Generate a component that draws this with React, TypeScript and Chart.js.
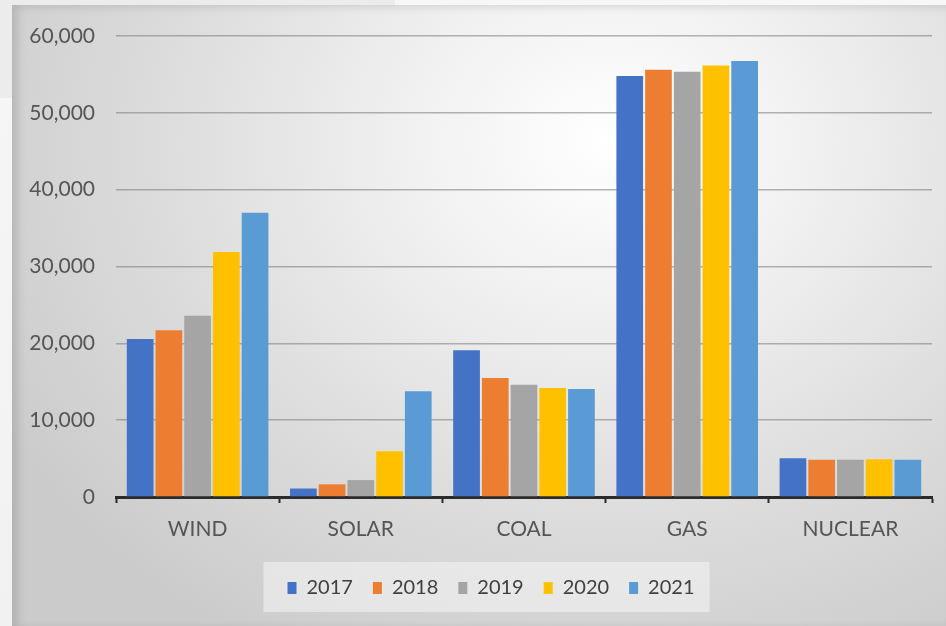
import React, { useEffect, useRef } from "react";
import { Chart, registerables } from "chart.js";

Chart.register(...registerables);

// Electricity generation by source, 2017–2021
const categories = ["WIND", "SOLAR", "COAL", "GAS", "NUCLEAR"];
const years = ["2017", "2018", "2019", "2020", "2021"];
const values2017 = [20550, 1100, 19100, 54800, 5050];
const values2018 = [21700, 1650, 15500, 55600, 4850];
const values2019 = [23600, 2200, 14600, 55350, 4850];
const values2020 = [31900, 5950, 14200, 56150, 4900];
const values2021 = [37000, 13750, 14050, 56750, 4850];
const seriesValues = [values2017, values2018, values2019, values2020, values2021];
const seriesColors = ["#4472C4", "#ED7D31", "#A5A5A5", "#FFC000", "#5B9BD5"];
const yTicks = [0, 10000, 20000, 30000, 40000, 50000, 60000];

const FONT = "Lato, 'Open Sans', sans-serif";
const LEGEND_SHIFT = 38;

// Nudges the legend to the right and paints a soft panel behind its entries
const legendPanel = {
  id: "legendPanel",
  afterLayout(chart: any) {
    const lg = chart.legend;
    if (lg) lg.left += LEGEND_SHIFT;
  },
  beforeDraw(chart: any) {
    const boxes = chart.legend?.legendHitBoxes;
    if (!boxes || !boxes.length) return;
    const first = boxes[0];
    const last = boxes[boxes.length - 1];
    const ctx = chart.ctx;
    ctx.save();
    ctx.fillStyle = "rgba(246,246,246,0.55)";
    const left = first.left - 24;
    const right = last.left + last.width + 15;
    const top = first.top - 16;
    const bottom = first.top + first.height + 14;
    ctx.fillRect(left, top, right - left, bottom - top);
    ctx.restore();
  },
};

export default function App() {
  const canvasRef = useRef<HTMLCanvasElement | null>(null);

  useEffect(() => {
    if (!canvasRef.current) return;
    const chart = new Chart(canvasRef.current, {
      type: "bar",
      data: {
        labels: categories,
        datasets: years.map((y, i) => ({
          label: y,
          data: seriesValues[i],
          backgroundColor: seriesColors[i],
          borderWidth: 0,
          categoryPercentage: 0.88,
          barPercentage: 0.93,
        })),
      },
      plugins: [legendPanel],
      options: {
        responsive: false,
        animation: false,
        layout: { padding: { left: 12, right: 14, top: 36, bottom: 18 } },
        plugins: {
          tooltip: { enabled: false },
          legend: {
            position: "bottom",
            labels: {
              boxWidth: 9,
              boxHeight: 12,
              padding: 20,
              color: "#404040",
              font: { family: FONT, size: 20 },
            },
          },
        },
        scales: {
          x: {
            afterFit: (s: any) => {
              s.height = 61;
            },
            grid: {
              display: true,
              drawOnChartArea: false,
              drawTicks: true,
              tickLength: 6,
              tickColor: "#2b2b2b",
              tickWidth: 2,
              offset: true,
            },
            border: { display: true, color: "#2b2b2b", width: 3 },
            ticks: {
              color: "#555555",
              padding: 14,
              font: { family: FONT, size: 21 },
            },
          },
          y: {
            min: 0,
            max: 60000,
            afterFit: (s: any) => {
              s.width = 104;
            },
            afterBuildTicks: (s: any) => {
              s.ticks = yTicks.map((v) => ({ value: v }));
            },
            grid: {
              color: "rgba(120,120,120,0.55)",
              lineWidth: 1.5,
              drawTicks: false,
            },
            border: { display: false },
            ticks: {
              color: "#555555",
              padding: 21,
              font: { family: FONT, size: 21 },
              callback: (v: any) => Number(v).toLocaleString("en-US"),
            },
          },
        },
      },
    });
    return () => chart.destroy();
  }, []);

  return (
    <div
      style={{
        position: "fixed",
        left: 0,
        top: 0,
        width: 946,
        height: 626,
        overflow: "hidden",
        background: "linear-gradient(180deg, #f7f7f7 0%, #f1f1f1 100%)",
      }}
    >
      <div
        style={{
          position: "absolute",
          left: 0,
          top: 0,
          width: 395,
          height: 98,
          background: "#ececec",
        }}
      />
      <div
        style={{
          position: "absolute",
          left: 12,
          top: 5,
          width: 934,
          height: 621,
          background:
            "radial-gradient(ellipse 75% 95% at 64% 22%, #ffffff 0%, #f0f0f0 30%, #dcdcdc 65%, #cbcbcb 100%)",
          boxShadow: "inset 6px 2px 8px rgba(0,0,0,0.12)",
        }}
      />
      <canvas
        ref={canvasRef}
        width={946}
        height={626}
        style={{ position: "absolute", left: 0, top: 0 }}
      />
    </div>
  );
}
